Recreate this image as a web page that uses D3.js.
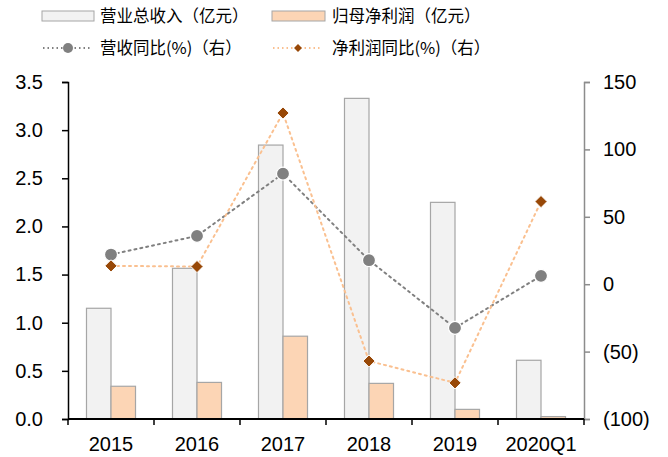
<!DOCTYPE html>
<html><head><meta charset="utf-8">
<script src="https://cdn.jsdelivr.net/npm/d3@7"></script>
<style>body{margin:0;background:#fff}svg{display:block}</style>
</head><body><svg id="c" width="668" height="457"></svg>
<script>
const categories = ["2015","2016","2017","2018","2019","2020Q1"];
const revenue = [1.15, 1.565, 2.845, 3.33, 2.25, 0.61];
const profit = [0.34, 0.38, 0.86, 0.37, 0.10, 0.025];
const revenueYoY = [22, 35.8, 82, 17.8, -32.4, 6.2];
const profitYoY = [13.6, 13.1, 127, -57, -73.2, 61.3];
const leftTicks = [0,0.5,1,1.5,2,2.5,3,3.5];
const rightTicks = [-100,-50,0,50,100,150];
const legendLabels = ["营业总收入（亿元）","归母净利润（亿元）","营收同比(%)（右）","净利润同比(%)（右）"];

const svg = d3.select("#c");
const L = 68, R = 584, T = 82, B = 419;
const x = d3.scaleBand().domain(categories).range([L, R]);
const yL = d3.scaleLinear().domain([0, 3.5]).range([B, T]);
const yR = d3.scaleLinear().domain([-100, 150]).range([B, T]);
const bw = x.bandwidth() * 0.285;
const font = "Liberation Sans, Arial, sans-serif";
const cjk = "Noto Sans CJK SC, sans-serif";
const fs = 20;

// bars
svg.append("g").selectAll("rect").data(categories).join("rect")
  .attr("x", d => x(d) + x.bandwidth()/2 - bw)
  .attr("y", (d,i) => yL(revenue[i]))
  .attr("width", bw).attr("height", (d,i) => B - yL(revenue[i]))
  .attr("fill", "#f2f2f2").attr("stroke", "#a6a6a6").attr("stroke-width", 1.2);
svg.append("g").selectAll("rect").data(categories).join("rect")
  .attr("x", d => x(d) + x.bandwidth()/2)
  .attr("y", (d,i) => yL(profit[i]))
  .attr("width", bw).attr("height", (d,i) => B - yL(profit[i]))
  .attr("fill", "#fcd5b5").attr("stroke", "#a6a6a6").attr("stroke-width", 1.2);

// axes
const gl = svg.append("g").attr("transform", `translate(${L},0)`)
  .call(d3.axisLeft(yL).tickValues(leftTicks).tickFormat(d3.format(".1f")).tickSizeOuter(0).tickSize(6).tickPadding(19));
gl.selectAll("path,line").attr("stroke", "#000").attr("stroke-width", 1.5);
gl.selectAll("text").attr("font-family", font).attr("font-size", fs).attr("fill", "#000");

const gr = svg.append("g").attr("transform", `translate(${R},0)`)
  .call(d3.axisRight(yR).tickValues(rightTicks).tickFormat(d => d < 0 ? `(${-d})` : d).tickSizeOuter(0).tickSize(6).tickPadding(13));
gr.selectAll("path,line").attr("stroke", "#8c8c8c").attr("stroke-width", 1.5);
gr.selectAll("text").attr("font-family", font).attr("font-size", fs).attr("fill", "#000");

const gx = svg.append("g").attr("transform", `translate(0,${B})`);
gx.append("line").attr("x1", L).attr("x2", R).attr("stroke", "#000").attr("stroke-width", 2);
gx.selectAll("line.t").data(categories.concat(["end"])).join("line").attr("class","t")
  .attr("x1", (d,i) => i < categories.length ? x(d) : R)
  .attr("x2", (d,i) => i < categories.length ? x(d) : R)
  .attr("y1", 0).attr("y2", 6).attr("stroke", "#000").attr("stroke-width", 1.5);
gx.selectAll("text").data(categories).join("text")
  .attr("x", d => x(d) + x.bandwidth()/2).attr("y", 32)
  .attr("text-anchor", "middle").attr("font-family", font).attr("font-size", fs).text(d => d);

// lines
const cx = d => x(d) + x.bandwidth()/2;
const lineRev = d3.line().x((d,i) => cx(categories[i])).y(d => yR(d));
svg.append("path").attr("d", lineRev(revenueYoY)).attr("fill", "none")
  .attr("stroke", "#808080").attr("stroke-width", 2).attr("stroke-dasharray", "2,4").attr("stroke-linecap","round");
svg.append("path").attr("d", lineRev(profitYoY)).attr("fill", "none")
  .attr("stroke", "#fac090").attr("stroke-width", 2).attr("stroke-dasharray", "2,4").attr("stroke-linecap","round");

svg.append("g").selectAll("circle").data(revenueYoY).join("circle")
  .attr("cx", (d,i) => cx(categories[i])).attr("cy", d => yR(d)).attr("r", 6.5)
  .attr("fill", "#808080").attr("stroke", "#fff").attr("stroke-width", 1.2);
const diamond = d3.symbol().type(d3.symbolDiamond2).size(95);
svg.append("g").selectAll("path").data(profitYoY).join("path")
  .attr("transform", (d,i) => `translate(${cx(categories[i])},${yR(d)})`)
  .attr("d", diamond).attr("fill", "#984807").attr("stroke", "#fff").attr("stroke-width", 1);

// legend
const lg = svg.append("g");
lg.append("rect").attr("x", 42).attr("y", 11).attr("width", 52).attr("height", 10).attr("fill", "#f2f2f2").attr("stroke", "#a6a6a6");
lg.append("rect").attr("x", 272).attr("y", 11).attr("width", 53).attr("height", 10).attr("fill", "#fcd5b5").attr("stroke", "#a6a6a6");
lg.append("line").attr("x1", 43).attr("x2", 91).attr("y1", 48).attr("y2", 48).attr("stroke", "#808080").attr("stroke-width", 2).attr("stroke-dasharray", "1.5,3");
lg.append("circle").attr("cx", 68).attr("cy", 48).attr("r", 5).attr("fill", "#808080");
lg.append("line").attr("x1", 273).attr("x2", 322).attr("y1", 48).attr("y2", 48).attr("stroke", "#fac090").attr("stroke-width", 2).attr("stroke-dasharray", "1.5,3");
lg.append("path").attr("transform", "translate(298,48)").attr("d", d3.symbol().type(d3.symbolDiamond2).size(40)).attr("fill", "#984807");
[[100,16],[332,16],[100,48],[332,48]].forEach((p,i) => {
  lg.append("text").attr("x", p[0]).attr("y", p[1]).attr("dy", "0.36em")
    .attr("font-family", cjk).attr("font-size", 16.5).attr("fill", "#000").text(legendLabels[i]);
});
</script></body></html>
